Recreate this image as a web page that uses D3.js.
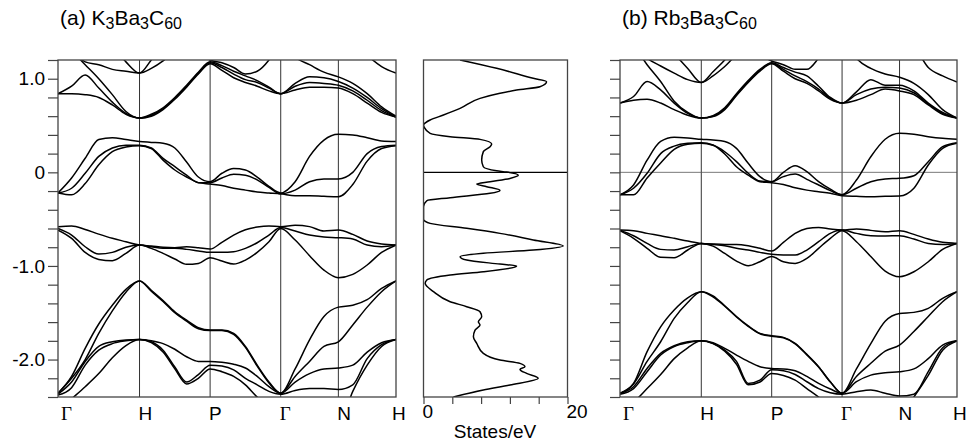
<!DOCTYPE html>
<html>
<head>
<meta charset="utf-8">
<script src="https://cdn.jsdelivr.net/npm/d3@7"></script>
<style>
body { margin: 0; background: #fff; }
svg { display: block; }
text { font-family: "Liberation Sans", Arial, sans-serif; fill: #000; }
</style>
</head>
<body>
<svg id="chart" width="966" height="445"></svg>
<script>
// k-path (bcc): Γ-H-P-Γ-N-H, distances in units of Γ-H
var kNodes = [0, 1, 1.866, 2.732, 3.439, 4.146];
var kLabels = ["Γ", "H", "P", "Γ", "N", "H"];
var kSteps = [6, 6, 6, 4, 4];   // samples read per segment

var yTicks = d3.range(-24, 13, 2).map(function(v) { return v / 10; });
var yLabels = {"1": "1.0", "0": "0", "-1": "-1.0", "-2": "-2.0"};
var dosTicks = [0, 4, 8, 12, 16, 20];
var dosTickLabels = {"0": "0", "20": "20"};

var titleA = ["(a) K", "3", "Ba", "3", "C", "60"];
var titleB = ["(b) Rb", "3", "Ba", "3", "C", "60"];

// ---- K3Ba3C60 bands (eV), read at the 27 k samples ----
var condA = [
  [0.84,0.84,0.83,0.80,0.72,0.62,0.58, 0.60,0.67,0.78,0.91,1.05,1.16, 1.09,1.01,0.96,0.92,0.87,0.84, 0.88,0.91,0.91,0.90, 0.84,0.74,0.64,0.59],
  [0.84,0.92,1.04,0.90,0.75,0.63,0.58, 0.61,0.68,0.79,0.92,1.06,1.17, 1.12,1.05,0.99,0.96,0.90,0.84, 0.92,0.96,0.95,0.93, 0.87,0.77,0.66,0.59],
  [1.45,1.30,1.15,1.00,0.83,0.65,0.58, 0.62,0.69,0.80,0.93,1.07,1.18, 1.14,1.08,1.03,0.98,0.91,0.84, 0.95,1.02,1.01,0.97, 0.90,0.80,0.68,0.59],
  [1.50,1.32,1.18,1.15,1.10,1.08,1.06, 1.11,1.19,1.30,1.32,1.28,1.20, 1.17,1.12,1.05,1.08,1.20,1.40, 1.23,1.15,1.07,1.02, 0.95,0.84,0.70,0.60],
  [1.60,1.55,1.50,1.45,1.35,1.18,1.06, 1.20,1.35,1.45,1.45,1.40,1.30, 1.35,1.40,1.45,1.50,1.55,1.60, 1.60,1.55,1.50,1.45, 1.40,1.25,1.13,1.06]
];
var fermiA = [
  [-0.22,-0.24,-0.12,0.08,0.22,0.27,0.285, 0.255,0.13,0.025,-0.05,-0.11,-0.125, -0.14,-0.17,-0.19,-0.21,-0.22,-0.23, -0.25,-0.25,-0.256,-0.26, -0.13,0.12,0.255,0.285],
  [-0.22,-0.17,-0.01,0.17,0.26,0.29,0.29, 0.26,0.15,0.06,-0.03,-0.11,-0.11, -0.06,-0.02,-0.03,-0.08,-0.16,-0.23, -0.19,-0.10,-0.07,-0.07, 0.0,0.20,0.275,0.29],
  [-0.22,-0.06,0.15,0.35,0.37,0.35,0.33, 0.32,0.31,0.26,0.11,-0.05,-0.10, -0.01,0.04,0.025,-0.05,-0.15,-0.22, -0.10,0.17,0.345,0.406, 0.40,0.37,0.335,0.33]
];
var valA = [
  [-0.617,-0.705,-0.855,-0.93,-0.944,-0.866,-0.777, -0.812,-0.866,-0.926,-0.983,-0.973,-0.912, -0.948,-0.98,-0.937,-0.855,-0.741,-0.60, -0.723,-0.89,-1.044,-1.125, -1.09,-0.99,-0.855,-0.777],
  [-0.60,-0.67,-0.795,-0.873,-0.855,-0.80,-0.777, -0.795,-0.81,-0.812,-0.823,-0.84,-0.855, -0.855,-0.848,-0.812,-0.752,-0.67,-0.59, -0.627,-0.67,-0.691,-0.698, -0.713,-0.777,-0.795,-0.777],
  [-0.58,-0.573,-0.61,-0.66,-0.705,-0.741,-0.777, -0.787,-0.80,-0.805,-0.795,-0.805,-0.82, -0.748,-0.67,-0.613,-0.585,-0.573,-0.58, -0.566,-0.58,-0.627,-0.617, -0.663,-0.734,-0.766,-0.777]
];
var lowA = [
  [-2.55,-2.42,-2.29,-2.15,-1.98,-1.85,-1.785, -1.82,-1.92,-2.10,-2.26,-2.20,-2.10, -2.13,-2.18,-2.27,-2.40,-2.50,-2.60, -2.50,-2.65,-2.70,-2.70, -2.34,-2.06,-1.86,-1.785],
  [-2.38,-2.30,-2.06,-1.90,-1.83,-1.80,-1.785, -1.81,-1.90,-2.08,-2.24,-2.16,-2.06, -2.07,-2.11,-2.20,-2.27,-2.34,-2.37, -2.33,-2.31,-2.31,-2.32, -2.27,-1.99,-1.84,-1.785],
  [-2.37,-2.24,-2.02,-1.86,-1.81,-1.79,-1.785, -1.80,-1.83,-1.89,-1.97,-2.02,-2.02, -2.03,-2.05,-2.09,-2.18,-2.29,-2.36, -2.24,-2.15,-2.10,-2.09, -2.06,-1.92,-1.82,-1.785],
  [-2.36,-2.20,-2.00,-1.72,-1.48,-1.28,-1.16, -1.27,-1.38,-1.50,-1.59,-1.67,-1.69, -1.69,-1.73,-1.87,-2.07,-2.25,-2.36, -2.18,-2.02,-1.86,-1.81, -1.63,-1.44,-1.275,-1.16],
  [-2.36,-2.18,-1.88,-1.62,-1.42,-1.25,-1.16, -1.26,-1.37,-1.49,-1.58,-1.66,-1.685, -1.685,-1.72,-1.86,-2.06,-2.24,-2.36, -2.10,-1.79,-1.54,-1.44, -1.42,-1.36,-1.24,-1.16]
];

// ---- Rb3Ba3C60 bands (eV) ----
var condB = [
  [0.74,0.77,0.78,0.74,0.67,0.61,0.58, 0.595,0.67,0.82,0.96,1.08,1.16, 1.08,1.00,0.95,0.87,0.78,0.74, 0.77,0.83,0.89,0.87, 0.83,0.72,0.62,0.58],
  [0.74,0.81,0.97,0.88,0.74,0.63,0.58, 0.60,0.68,0.83,0.97,1.09,1.165, 1.10,1.03,0.97,0.89,0.79,0.74, 0.83,0.89,0.91,0.90, 0.85,0.73,0.63,0.58],
  [1.45,1.35,1.15,0.97,0.76,0.64,0.58, 0.605,0.69,0.84,0.98,1.10,1.17, 1.12,1.07,1.03,0.92,0.80,0.74, 0.86,0.99,0.93,0.93, 0.87,0.74,0.64,0.58],
  [1.50,1.38,1.22,1.136,1.06,0.99,0.96, 1.03,1.13,1.25,1.30,1.25,1.19, 1.15,1.10,1.10,1.22,1.40,1.50, 1.22,1.11,1.05,1.015, 0.95,0.83,0.67,0.58],
  [1.60,1.55,1.50,1.45,1.27,1.11,0.96, 1.075,1.20,1.35,1.45,1.45,1.35, 1.40,1.45,1.50,1.55,1.60,1.60, 1.60,1.55,1.50,1.45, 1.35,1.12,1.03,0.965]
];
var fermiB = [
  [-0.24,-0.24,-0.06,0.10,0.245,0.30,0.31, 0.29,0.196,0.06,-0.03,-0.10,-0.11, -0.13,-0.164,-0.19,-0.207,-0.224,-0.25, -0.256,-0.26,-0.256,-0.253, -0.17,0.078,0.256,0.31],
  [-0.24,-0.17,-0.01,0.20,0.28,0.31,0.317, 0.292,0.22,0.114,-0.01,-0.093,-0.10, -0.046,-0.018,-0.075,-0.135,-0.196,-0.24, -0.17,-0.10,-0.07,-0.064, -0.036,0.114,0.274,0.317],
  [-0.24,-0.135,0.13,0.33,0.374,0.367,0.353, 0.345,0.33,0.256,0.096,-0.046,-0.10, 0.0,0.07,0.007,-0.10,-0.18,-0.24, -0.082,0.167,0.353,0.417, 0.406,0.381,0.363,0.353]
];
var valB = [
  [-0.624,-0.705,-0.812,-0.908,-0.912,-0.83,-0.759, -0.788,-0.866,-0.948,-0.998,-0.955,-0.90, -0.955,-0.973,-0.92,-0.812,-0.705,-0.624, -0.741,-0.90,-1.055,-1.115, -1.062,-0.955,-0.823,-0.759],
  [-0.617,-0.677,-0.759,-0.823,-0.83,-0.795,-0.759, -0.77,-0.784,-0.812,-0.83,-0.855,-0.876, -0.884,-0.884,-0.83,-0.741,-0.652,-0.617, -0.652,-0.677,-0.68,-0.677, -0.713,-0.759,-0.77,-0.759],
  [-0.617,-0.624,-0.652,-0.677,-0.705,-0.734,-0.759, -0.766,-0.77,-0.77,-0.784,-0.812,-0.841, -0.748,-0.652,-0.60,-0.588,-0.606,-0.617, -0.606,-0.62,-0.635,-0.624, -0.663,-0.713,-0.748,-0.759]
];
var lowB = [
  [-2.50,-2.45,-2.31,-2.16,-1.99,-1.874,-1.80, -1.83,-1.91,-2.05,-2.27,-2.24,-2.15, -2.17,-2.22,-2.31,-2.40,-2.50,-2.60, -2.50,-2.60,-2.65,-2.60, -2.40,-2.17,-1.90,-1.80],
  [-2.37,-2.31,-2.13,-1.952,-1.862,-1.82,-1.80, -1.827,-1.90,-2.02,-2.255,-2.22,-2.11, -2.12,-2.16,-2.237,-2.31,-2.354,-2.37, -2.343,-2.325,-2.36,-2.39, -2.37,-2.13,-1.874,-1.80],
  [-2.36,-2.29,-2.095,-1.934,-1.852,-1.81,-1.80, -1.82,-1.88,-1.952,-2.02,-2.076,-2.095, -2.10,-2.12,-2.18,-2.255,-2.315,-2.36, -2.237,-2.166,-2.14,-2.13, -2.10,-1.99,-1.845,-1.80],
  [-2.36,-2.26,-2.02,-1.81,-1.56,-1.39,-1.275, -1.33,-1.43,-1.545,-1.645,-1.725,-1.75, -1.768,-1.832,-1.95,-2.08,-2.24,-2.36, -2.18,-2.04,-1.91,-1.845, -1.70,-1.54,-1.382,-1.275],
  [-2.36,-2.255,-1.916,-1.65,-1.47,-1.34,-1.275, -1.32,-1.425,-1.54,-1.64,-1.72,-1.745, -1.763,-1.827,-1.945,-2.076,-2.237,-2.36, -2.10,-1.83,-1.59,-1.507, -1.496,-1.453,-1.346,-1.275]
];

// ---- K3Ba3C60 density of states: energy (eV) and states/eV ----
var dosEnergy = [1.20,1.111,1.004,0.968,0.915,0.879,0.844,0.79,0.683,0.612,0.559,0.505,0.48,0.416,0.381,0.352,0.302,0.274,0.221,0.131,0.06,0.017,0.003,-0.032,-0.065,-0.10,-0.125,-0.153,-0.193,-0.224,-0.271,-0.303,-0.367,-0.502,-0.545,-0.598,-0.652,-0.723,-0.787,-0.83,-0.865,-0.901,-0.937,-0.98,-1.0,-1.062,-1.097,-1.15,-1.186,-1.275,-1.382,-1.435,-1.489,-1.542,-1.595,-1.631,-1.685,-1.756,-1.827,-1.934,-2.005,-2.041,-2.077,-2.105,-2.148,-2.20,-2.272,-2.325,-2.40];
var dosStates = [5.08,10.16,15.24,17.09,16.17,12.93,10.62,7.85,5.08,2.77,0.92,0,0.1,0.92,3.7,7.85,9.47,9.24,8.31,8.08,8.31,10.16,11.55,13.16,12.0,9.24,7.39,8.78,10.62,9.24,3.7,0.46,0,0,0.92,6.0,10.62,15.24,19.4,15.24,8.31,5.08,6.0,10.62,12.93,8.31,3.7,0.46,0.23,1.39,3.7,6.0,7.85,8.08,7.62,7.85,7.16,6.93,7.39,8.31,10.62,13.4,14.09,13.4,14.32,15.93,12.0,8.31,4.16];

// sample positions along the path
var kGrid = [];
kSteps.forEach(function(n, i) {
    for (var j = 0; j < n; j++) kGrid.push(kNodes[i] + (kNodes[i + 1] - kNodes[i]) * j / n);
});
kGrid.push(kNodes[kNodes.length - 1]);

var svg = d3.select("#chart");
var yTop = 60, yBot = 397;
var y = d3.scaleLinear().domain([-2.4, 1.2]).range([yBot, yTop]);

function writeTitle(x, parts) {
    var t = svg.append("text").attr("x", x).attr("y", 25).style("font-size", "21px");
    parts.forEach(function(p, i) {
        var s = t.append("tspan").text(p);
        if (i % 2 == 1) s.attr("dy", 4).style("font-size", "16px");
        else if (i > 0) s.attr("dy", -4);
    });
}

function bandPanel(id, x0, x1, bandSets, title, withLabels, fermiLine) {
    var x = d3.scaleLinear().domain([0, kNodes[kNodes.length - 1]]).range([x0, x1]);
    var g = svg.append("g");

    g.append("clipPath").attr("id", "clip" + id)
        .append("rect").attr("x", x0).attr("y", yTop).attr("width", x1 - x0).attr("height", yBot - yTop);

    // y axis ticks (outward)
    var ax = d3.axisLeft(y).tickValues(yTicks).tickSize(10).tickPadding(3)
        .tickFormat(function(d) {
            if (!withLabels) return "";
            var key = String(Math.round(d * 10) / 10);
            return yLabels[key] || "";
        });
    var axg = g.append("g").attr("transform", "translate(" + x0 + ",0)").call(ax);
    axg.select(".domain").remove();
    axg.selectAll(".tick line").attr("stroke", "#444").attr("stroke-width", 1.2);
    axg.selectAll(".tick text").style("font-size", "19px").style("font-family", "Liberation Sans, Arial, sans-serif").attr("fill", "#000");

    // high symmetry lines
    g.selectAll(".kline").data(kNodes.slice(1, -1)).enter().append("line")
        .attr("x1", function(d) { return x(d); }).attr("x2", function(d) { return x(d); })
        .attr("y1", yTop).attr("y2", yBot)
        .attr("stroke", "#333").attr("stroke-width", 1);

    if (fermiLine) {
        g.append("line").attr("x1", x0).attr("x2", x1).attr("y1", y(0)).attr("y2", y(0))
            .attr("stroke", "#555").attr("stroke-width", 0.8);
    }

    var line = d3.line()
        .x(function(d) { return x(d[0]); })
        .y(function(d) { return y(d[1]); })
        .curve(d3.curveMonotoneX);

    var bands = [];
    bandSets.forEach(function(set) { set.forEach(function(b) { bands.push(b); }); });
    g.append("g").attr("clip-path", "url(#clip" + id + ")")
        .selectAll("path").data(bands).enter().append("path")
        .attr("d", function(b) { return line(kGrid.map(function(k, i) { return [k, b[i]]; })); })
        .attr("fill", "none").attr("stroke", "#000").attr("stroke-width", 1.5);

    g.append("rect").attr("x", x0).attr("y", yTop).attr("width", x1 - x0).attr("height", yBot - yTop)
        .attr("fill", "none").attr("stroke", "#444").attr("stroke-width", 1.3);

    // k point labels
    g.selectAll(".klab").data(kLabels).enter().append("text")
        .attr("x", function(d, i) {
            var px = x(kNodes[i]);
            if (i == 0) return px + 3;
            if (i == kLabels.length - 1) return px - 4;
            return px - 1;
        })
        .attr("y", 420)
        .style("font-size", "19px")
        .style("font-family", function(d) { return d == "Γ" ? "Liberation Serif, Times New Roman, serif" : null; })
        .text(function(d) { return d; });

    writeTitle(x0 + 2, title);
}

bandPanel("a", 58, 396, [condA, fermiA, valA, lowA], titleA, true, false);
bandPanel("b", 620, 957, [condB, fermiB, valB, lowB], titleB, false, true);

// DOS panel
var xd = d3.scaleLinear().domain([0, 20]).range([423.5, 567.5]);
var dg = svg.append("g");
dg.append("clipPath").attr("id", "clipdos")
    .append("rect").attr("x", 423.5).attr("y", yTop).attr("width", 144).attr("height", yBot - yTop);

var dax = d3.axisBottom(xd).tickValues(dosTicks).tickSize(7).tickFormat("");
var daxg = dg.append("g").attr("transform", "translate(0," + yBot + ")").call(dax);
daxg.select(".domain").remove();
daxg.selectAll(".tick line").attr("stroke", "#444").attr("stroke-width", 1.2);

dg.selectAll(".dlab").data(dosTicks.filter(function(d) { return dosTickLabels[d]; })).enter().append("text")
    .attr("x", function(d) { return xd(d) - 1; })
    .attr("y", 418)
    .style("font-size", "19px")
    .text(function(d) { return dosTickLabels[d]; });

dg.append("text").attr("x", 495).attr("y", 438).attr("text-anchor", "middle")
    .style("font-size", "19px").text("States/eV");

dg.append("line").attr("x1", xd(0)).attr("x2", xd(20)).attr("y1", y(0)).attr("y2", y(0))
    .attr("stroke", "#000").attr("stroke-width", 1.2);

var dline = d3.line()
    .x(function(d) { return xd(d[1]); })
    .y(function(d) { return y(d[0]); })
    .curve(d3.curveMonotoneY);
dg.append("path").attr("clip-path", "url(#clipdos)")
    .attr("d", dline(dosEnergy.map(function(e, i) { return [e, dosStates[i]]; })))
    .attr("fill", "none").attr("stroke", "#000").attr("stroke-width", 1.5);

dg.append("rect").attr("x", 423.5).attr("y", yTop).attr("width", 144).attr("height", yBot - yTop)
    .attr("fill", "none").attr("stroke", "#444").attr("stroke-width", 1.3);
</script>
</body>
</html>
